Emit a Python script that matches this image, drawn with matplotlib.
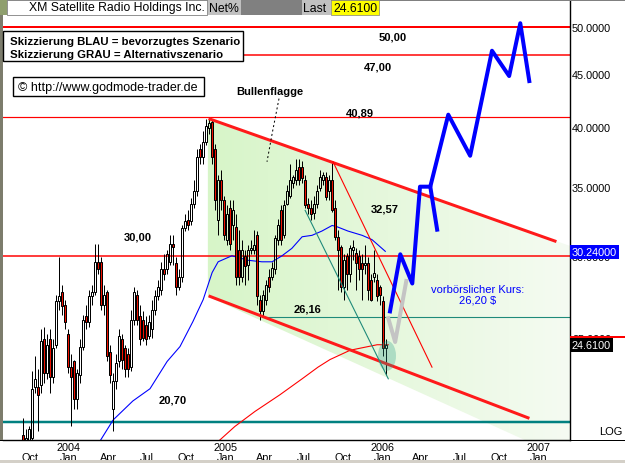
import numpy as np
import pandas as pd
import matplotlib
matplotlib.use("Agg")
import matplotlib.pyplot as plt
import matplotlib.dates as mdates
import matplotlib.transforms as mtrans
from matplotlib.patches import Rectangle, Polygon, Ellipse
from matplotlib.colors import LinearSegmentedColormap
from matplotlib.ticker import NullLocator

plt.rcParams['font.family'] = ['Liberation Sans', 'DejaVu Sans']

# weekly candles, XM Satellite Radio, Sep 2003 - Jan 2006
first_week = '2003-09-16'
opens = [20.1, 19.7, 19.9, 20.0, 22.4, 22.4, 22.5, 24.9, 23.1, 24.9,
         22.9, 24.6, 27.1, 27.7, 26.9, 25.2, 23.4, 23.7, 21.8, 23.0,
         24.5, 26.2, 25.9, 27.4, 27.7, 29.6, 29.6, 26.9, 27.7, 24.2,
         21.3, 22.7, 23.7, 24.9, 24.4, 24.1, 23.4, 26.0, 27.5, 26.2,
         26.0, 25.7, 25.1, 25.5, 26.6, 27.4, 27.8, 29.1, 29.1, 29.6,
         30.8, 29.5, 28.0, 28.6, 31.9, 32.5, 32.4, 33.7, 34.7, 38.1,
         37.4, 38.7, 39.9, 40.4, 38.1, 32.5, 35.5, 34.0, 31.1, 33.4,
         32.1, 32.0, 30.4, 28.6, 30.0, 29.4, 30.4, 30.4, 31.4, 27.2,
         26.5, 27.2, 28.6, 28.6, 29.1, 31.1, 33.2, 31.4, 33.7, 34.3,
         35.3, 35.5, 36.6, 36.6, 35.5, 33.7, 33.4, 33.0, 33.7, 34.9,
         35.5, 35.8, 34.7, 35.5, 33.4, 31.3, 30.6, 28.0, 30.0, 28.8,
         30.4, 30.2, 30.0, 29.5, 29.4, 29.5, 28.4, 28.6, 28.4, 28.0,
         27.1, 24.4]
highs = [20.9, 20.4, 20.5, 23.2, 24.0, 23.3, 25.5, 25.6, 25.2, 25.5,
         24.9, 27.5, 29.9, 28.1, 27.2, 25.5, 24.1, 23.8, 23.3, 24.9,
         26.3, 26.9, 27.8, 28.1, 30.8, 30.8, 29.9, 28.1, 27.8, 24.6,
         23.1, 24.1, 25.5, 25.2, 24.6, 24.4, 26.6, 28.0, 27.8, 26.9,
         26.5, 26.2, 26.3, 27.2, 27.8, 28.4, 29.6, 30.1, 30.4, 31.4,
         31.4, 29.9, 29.1, 32.1, 32.9, 33.2, 34.1, 35.5, 38.1, 38.5,
         39.6, 40.7, 40.9, 40.7, 38.5, 35.9, 36.3, 34.3, 33.6, 34.0,
         34.0, 32.9, 31.8, 31.1, 30.4, 30.7, 31.1, 31.8, 31.7, 27.5,
         27.8, 28.4, 29.1, 29.6, 31.4, 32.6, 33.6, 34.0, 35.1, 36.8,
         35.9, 37.2, 37.2, 37.1, 35.9, 34.1, 34.0, 34.3, 35.1, 36.3,
         36.2, 36.2, 35.9, 37.0, 34.0, 31.8, 30.7, 30.1, 30.2, 30.7,
         31.1, 30.5, 30.4, 30.1, 30.7, 29.9, 28.8, 30.4, 28.8, 28.1,
         27.4, 24.9]
lows = [19.1, 19.3, 19.5, 19.7, 22.1, 20.3, 22.1, 22.6, 22.8, 22.1,
        22.6, 24.4, 26.6, 26.3, 25.5, 23.1, 20.5, 21.3, 21.3, 22.6,
        24.3, 25.5, 25.6, 26.9, 27.5, 28.8, 26.6, 26.3, 23.7, 22.6,
        20.3, 22.3, 23.4, 23.3, 22.9, 22.9, 23.2, 25.7, 25.7, 24.6,
        24.8, 24.6, 24.9, 25.0, 26.3, 27.2, 27.5, 28.4, 28.8, 29.4,
        29.4, 27.5, 27.8, 28.3, 31.7, 31.8, 32.1, 33.4, 34.3, 36.8,
        36.8, 38.4, 39.4, 36.8, 33.2, 31.4, 33.2, 31.1, 30.7, 30.4,
        31.1, 28.1, 28.1, 28.3, 28.1, 28.4, 30.1, 30.1, 26.9, 26.0,
        26.2, 26.9, 27.7, 28.4, 28.8, 30.7, 30.7, 31.2, 33.6, 34.1,
        34.9, 35.1, 35.1, 35.3, 33.4, 32.9, 32.5, 32.6, 33.4, 34.7,
        35.1, 34.0, 34.0, 33.1, 31.1, 27.8, 27.7, 27.2, 27.8, 28.3,
        29.7, 27.8, 28.4, 27.2, 28.8, 27.2, 27.1, 28.3, 27.1, 26.9,
        24.0, 23.0]
closes = [19.7, 20.0, 20.4, 22.3, 22.8, 22.0, 24.8, 23.1, 24.6, 22.9,
          24.4, 27.1, 27.4, 26.8, 25.9, 23.4, 22.9, 21.8, 23.1, 24.5,
          26.0, 25.9, 27.4, 27.7, 29.6, 29.1, 26.9, 27.5, 24.0, 23.0,
          22.7, 23.6, 25.1, 23.8, 23.3, 23.3, 26.0, 27.7, 26.0, 24.9,
          25.0, 24.9, 25.9, 26.6, 27.4, 28.0, 29.1, 28.8, 30.1, 30.8,
          30.6, 28.0, 28.6, 31.9, 32.4, 32.1, 33.7, 34.7, 37.4, 37.4,
          38.7, 40.1, 40.3, 37.4, 34.0, 35.5, 34.0, 31.4, 32.9, 30.8,
          33.2, 28.6, 28.6, 30.4, 29.3, 30.4, 30.5, 30.7, 27.4, 26.5,
          27.5, 28.1, 28.0, 29.2, 31.2, 32.1, 31.1, 33.6, 34.7, 35.5,
          35.8, 36.3, 35.5, 35.7, 33.6, 33.4, 32.9, 33.7, 34.7, 35.8,
          35.9, 34.2, 35.5, 33.2, 31.3, 30.4, 28.0, 29.7, 28.8, 30.5,
          30.6, 29.5, 29.1, 29.1, 29.5, 27.8, 27.2, 28.9, 27.4, 27.5,
          24.4, 24.6]

# moving averages
ma_blue_dates = ['2004-03-02', '2004-04-13', '2004-05-29', '2004-07-08', '2004-08-17',
                 '2004-09-16', '2004-10-16', '2004-11-09', '2004-11-30', '2004-12-14',
                 '2005-01-15', '2005-02-22', '2005-03-26', '2005-04-19', '2005-05-12',
                 '2005-06-04', '2005-06-28', '2005-07-21', '2005-08-13', '2005-09-06',
                 '2005-09-18', '2005-10-13', '2005-11-15', '2005-12-08', '2006-01-08']
ma_blue = [19.5, 20.8, 21.7, 22.3, 23.7, 24.5, 25.9, 27.2, 28.9, 29.6,
           30.0, 29.7, 29.6, 29.6, 30.0, 30.5, 31.3, 31.4, 31.7, 32.1,
           32.0, 31.7, 31.4, 31.1, 30.3]
ma_red_dates = ['2004-11-25', '2005-01-22', '2005-03-10', '2005-05-07', '2005-06-28',
                '2005-08-04', '2005-09-01', '2005-10-18', '2005-12-20', '2006-01-15']
ma_red = [19.5, 20.5, 21.2, 22.0, 22.8, 23.4, 23.8, 24.3, 24.6, 24.6]

# horizontal levels
resist_levels = [50.00, 47.00, 40.89, 30.00]
support_low = 20.70
support_flag = 26.16
support_flag_from = '2005-03-26'

# flag channel
chan_top_dates = ['2004-11-25', '2007-02-08']
chan_top = [40.7, 31.0]
chan_bot_dates = ['2004-11-25', '2006-12-07']
chan_bot = [27.4, 20.9]
flag_area_dates = ['2004-11-20', '2007-03-15', '2007-03-15', '2004-11-20']
flag_area = [40.7, 30.67, 19.0, 27.4]

trend_red_dates = ['2005-09-08', '2006-04-27']
trend_red = [37.0, 23.4]
trend_teal_dates = ['2005-07-05', '2006-01-15']
trend_teal = [33.2, 22.8]

pointer_dates = ['2005-05-05', '2005-04-19', '2005-04-07']
pointer = [42.6, 39.4, 37.0]

# scenarios
blue_dates = ['2006-01-19', '2006-02-12', '2006-03-12', '2006-03-30', '2006-04-23',
              '2006-06-04', '2006-07-25', '2006-09-14', '2006-10-24', '2006-11-19',
              '2006-12-10']
blue_path = [26.5, 30.1, 28.2, 35.0, 35.0, 41.1, 37.5, 47.4, 44.8, 50.4, 44.3]
blue_branch_dates = ['2006-04-23', '2006-05-09']
blue_branch = [35.0, 31.8]
grey_dates = ['2006-01-15', '2006-01-31', '2006-02-26']
grey_path = [26.1, 24.75, 28.36]

last_date = '2006-01-12'
last_price = 24.61
mark_price = 30.24
level_texts = ['50,00', '47,00', '40,89', '32,57', '30,00', '26,16', '20,70']

W, H = 625, 464
fig = plt.figure(figsize=(W / 100, H / 100), dpi=100)
ax = fig.add_axes([3 / W, 1 - 441 / H, 567 / W, 441 / H])
ax.set_yscale('log')

d = mdates.datestr2num
PX = 0.72  # one pixel in points

# green flag area with fading fill
area = Polygon(np.column_stack([d(flag_area_dates), flag_area]), closed=True,
               facecolor='none', edgecolor='none', transform=ax.transData)
ax.add_patch(area)
cmap = LinearSegmentedColormap.from_list('flag', ['#d7f5c8', '#f5fbf2'])
img = ax.imshow(np.linspace(0, 1, 256).reshape(1, -1), cmap=cmap, aspect='auto',
                extent=[0.36, 1, 0, 1], transform=ax.transAxes, zorder=0)
img.set_clip_path(area)

# levels
for lvl, lw in zip(resist_levels, [2, 1.5, 1.2, 1.5]):
    ax.axhline(lvl, color='#ff0000', lw=lw * PX, zorder=1)
ax.axhline(support_low, color='#008080', lw=2.5 * PX, zorder=1)
ax.plot([d(support_flag_from), d('2007-03-20')], [support_flag] * 2, color='#1f8a7a', lw=1.1 * PX, zorder=1)

# moving averages
ax.plot(d(ma_blue_dates), ma_blue, color='#0000ff', lw=1.1 * PX, zorder=2)
ax.plot(d(ma_red_dates), ma_red, color='#ff0000', lw=1.1 * PX, zorder=2)

# candles
x = mdates.date2num(pd.date_range(first_week, periods=len(closes), freq='7D'))
o, h, l, c = map(np.array, (opens, highs, lows, closes))
top = np.maximum(o, c)
bot = np.minimum(o, c)
ax.vlines(x, top, h, color='black', lw=PX, zorder=3)
ax.vlines(x, l, bot, color='black', lw=PX, zorder=3)
up = c >= o
ax.bar(x[up], top[up] - bot[up], bottom=bot[up], width=4.5, facecolor='none',
       edgecolor='black', lw=PX, zorder=4)
ax.bar(x[~up], top[~up] - bot[~up], bottom=bot[~up], width=4.5, facecolor='#ee1100',
       edgecolor='black', lw=PX, zorder=4)

# channel and trend lines
ax.plot(d(chan_top_dates), chan_top, color='#ff1a1a', lw=3 * PX, zorder=5)
ax.plot(d(chan_bot_dates), chan_bot, color='#ff1a1a', lw=3 * PX, zorder=5)
ax.plot(d(trend_red_dates), trend_red, color='#ff0000', lw=1.1 * PX, zorder=5)
ax.plot(d(trend_teal_dates), trend_teal, color='#1f8a7a', lw=1.1 * PX, zorder=5)
ax.plot(d(pointer_dates), pointer, color='black', lw=PX, ls=(0, (2, 2.5)), zorder=5)

# scenarios
ax.plot(d(grey_dates), grey_path, color='#c4c4c4', lw=4 * PX, zorder=6)
ax.plot(d(blue_dates), blue_path, color='#0000ff', lw=4 * PX, zorder=7)
ax.plot(d(blue_branch_dates), blue_branch, color='#0000ff', lw=4 * PX, zorder=7)

# highlight around last candle
ell = Ellipse((0, 0), 0.18, 0.30, facecolor='#2a9d8a', alpha=0.3, edgecolor='none', zorder=6,
              transform=fig.dpi_scale_trans + mtrans.ScaledTranslation(d(last_date), 24.0, ax.transData))
ax.add_artist(ell)

# axes styling
ax.set_xlim(d('2003-07-31'), d('2007-03-15'))
ax.set_ylim(19.89, 53.2)
for s in ['top', 'left']:
    ax.spines[s].set_visible(False)
ax.spines['right'].set_linewidth(1.4 * PX)
ax.spines['bottom'].set_linewidth(1.4 * PX)
ax.yaxis.tick_right()
ax.set_yticks([25, 30, 35, 40, 45, 50])
ax.set_yticklabels(['%.4f' % v for v in [25, 30, 35, 40, 45, 50]])
ax.yaxis.set_minor_locator(NullLocator())
ax.tick_params(axis='y', length=0, pad=1.5, labelsize=7.8)
qs = pd.date_range('2003-10-01', '2007-01-01', freq='QS')
ax.set_xticks(mdates.date2num(qs))
ax.set_xticklabels([('%d\nJan' % t.year) if t.month == 1 else '\n' + t.strftime('%b') for t in qs],
                   linespacing=0.95)
ax.tick_params(axis='x', length=0, pad=1.5, labelsize=7.8)

# frame pieces in pixel coords
def px_rect(x0, y0, x1, y1, **kw):
    fig.add_artist(Rectangle((x0 / W, 1 - y1 / H), (x1 - x0) / W, (y1 - y0) / H,
                             transform=fig.transFigure, **kw))

def px_text(xp, yp, s, **kw):
    fig.text(xp / W, 1 - yp / H, s, **kw)

px_rect(0, 0, 2.5, 441, facecolor='#7c7c6c', edgecolor='none')
px_rect(0, 440.5, W, 442, facecolor='black', edgecolor='none')
px_rect(0, 461, W, H, facecolor='#d4d0c8', edgecolor='none')

# header
px_rect(0, 0, W, 1.5, facecolor='#808080', edgecolor='none')
px_rect(0, 1, 7, 16, facecolor='#8f9f6e', edgecolor='none')
px_rect(7, 1, 207, 16, facecolor='white', edgecolor='#808080', lw=0.6)
px_rect(208, 1, 241, 16, facecolor='#c0c0c0', edgecolor='none')
px_rect(241, 1, 302, 16, facecolor='#808080', edgecolor='none')
px_rect(302, 1, 331, 16, facecolor='#c0c0c0', edgecolor='none')
px_rect(331, 1, 379, 16, facecolor='#ffff00', edgecolor='#808080', lw=0.5)
px_text(205, 8.5, 'XM Satellite Radio Holdings Inc.', ha='right', va='center', fontsize=8.8)
px_text(209, 8.5, 'Net%', ha='left', va='center', fontsize=8.8)
px_text(303, 8.5, 'Last', ha='left', va='center', fontsize=8.8)
px_text(333, 8.5, '%.4f' % last_price, ha='left', va='center', fontsize=8.8)

# legend boxes
px_rect(3, 32, 243, 62, facecolor='white', edgecolor='black', lw=1.4 * PX, zorder=5)
px_text(10, 42, 'Skizzierung BLAU = bevorzugtes Szenario', fontsize=8.2, fontweight='bold', va='center', zorder=6)
px_text(10, 55, 'Skizzierung GRAU = Alternativszenario', fontsize=8.2, fontweight='bold', va='center', zorder=6)
px_rect(13, 78, 204, 97, facecolor='white', edgecolor='black', lw=1.4 * PX, zorder=5)
px_text(18, 88, '\u00a9 http://www.godmode-trader.de', fontsize=9, va='center', zorder=6)

# level annotations
for (xp, yp), s in zip([(393, 37), (378, 67), (360, 113), (385, 210), (138, 238), (308, 310), (173, 401)],
                       level_texts):
    px_text(xp, yp, s, ha='center', va='center', fontsize=8, fontweight='bold', zorder=8)
px_text(270, 92, 'Bullenflagge', ha='center', va='center', fontsize=8, fontweight='bold')
px_text(478, 290, 'vorb\u00f6rslicher Kurs:', ha='center', va='center', fontsize=8, color='#0000ff', zorder=8)
px_text(478, 301, '26,20 $', ha='center', va='center', fontsize=8, color='#0000ff', zorder=8)

# price tags on the right axis
bt = mtrans.blended_transform_factory(ax.transAxes, ax.transData)
ax.text(1.003, mark_price, '%.5f' % mark_price, transform=bt, color='white', fontsize=7.8,
        va='center', ha='left', clip_on=False, zorder=9,
        bbox=dict(boxstyle='square,pad=0.2', facecolor='#0000ff', edgecolor='none'))
ax.text(1.003, last_price, '%.4f' % last_price, transform=bt, color='white', fontsize=7.8,
        va='center', ha='left', clip_on=False, zorder=9,
        bbox=dict(boxstyle='square,pad=0.2', facecolor='black', edgecolor='none'))
px_rect(570, 337, W, 339, facecolor='#ff0000', edgecolor='none', zorder=10)
px_text(622, 432, 'LOG', ha='right', va='center', fontsize=8)

fig.savefig('out.png', dpi=100)
